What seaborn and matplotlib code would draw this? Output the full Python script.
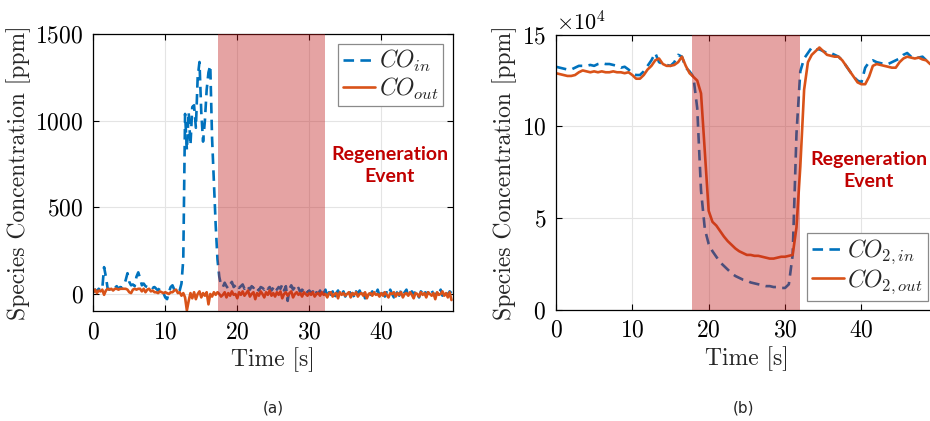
import numpy as np
import matplotlib
matplotlib.use("Agg")
import matplotlib.pyplot as plt
import seaborn as sns

# DATA
# CO concentrations [ppm], sampled every 0.25 s
t_co = np.arange(0, 50, 0.25)
co_in = [10, 25, 15, 30, 20, 30, 155, 100, 30, 25, 40, 30, 35, 45, 30, 40, 35, 50, 80, 120,
         70, 50, 55, 45, 100, 125, 90, 50, 60, 45, 40, 50, 45, 35, 40, 30, 20, 35, 15, 5,
         -20, -30, 10, 40, 50, 25, 15, 10, 20, 60, 200, 1040, 830, 1050, 860, 1080, 1090, 960, 1250, 1340,
         1050, 880, 1000, 1180, 1280, 1320, 900, 650, 400, 200, 100, 50, 40, 65, 45, 30, 55, 70, 40, 50,
         60, 35, 45, 55, 30, 50, 40, 25, 45, 35, 50, 30, 20, 40, 35, 25, 45, 30, 40, 20,
         35, 50, 25, 40, 30, 55, 20, 45, -40, 30, 50, 25, 40, 20, 35, 10, 25, 15, 30, 10,
         20, 5, 15, -10, 10, 0, 20, -15, 5, 25, -20, 10, -5, 15, -25, 5, 20, -10, 0, 15,
         -15, 10, 25, -5, 5, -20, 15, 0, 20, -10, 10, -25, 5, 20, -5, 15, -15, 0, 25, -10,
         5, 20, -15, 10, -5, 25, 0, -20, 15, 5, -10, 20, -5, 10, 25, -15, 0, 15, -10, 20,
         0, -20, 15, 5, 25, -10, 10, -5, 20, 0, -15, 15, 5, 25, -10, 10, 20, -5, 15, 5]
co_out = [10, 25, 5, 20, 15, 25, -5, 20, 30, 25, 30, 20, 30, 30, 25, 30, 30, 30, 30, 25,
          10, 5, 25, 30, 25, 30, 30, 15, 30, 10, 25, 30, 15, 20, 10, 10, 5, 15, 10, 5,
          10, 5, 0, 10, 10, 20, 25, 5, 10, -10, 5, -20, -95, -40, 5, -25, 10, -30, 0, 15,
          -20, 5, -10, 10, -60, 0, -15, 10, -5, 10, 0, -15, -5, 10, -20, 5, -10, 15, -5, 0,
          -25, 10, -5, 15, -10, 5, 20, -15, 0, 10, -30, 5, -10, 15, 0, -20, 10, -5, 20, -10,
          5, -15, 10, -5, 15, -25, 0, 10, -10, 5, 15, -20, 0, 10, -5, 5, -15, 10, 0, -10,
          5, -5, 10, -15, 0, 5, -10, 10, -5, 0, -20, 5, 10, -15, 0, 5, -25, 10, -5, 5,
          -10, 0, 10, -20, 5, -5, 10, -15, 0, 5, -10, 10, -25, 0, 5, -10, 10, -5, 0, -15,
          5, -10, 10, -5, -20, 5, 0, 10, -15, 5, -5, 10, -20, 0, 5, -10, 10, -5, -25, 5,
          0, -15, 10, -5, 5, -20, 10, 0, -10, 5, -30, 10, -5, 0, 15, -10, 5, -20, 10, -35]

# CO2 concentrations [x1e4 ppm], sampled every 0.5 s
t_co2 = np.arange(0, 50, 0.5)
co2_in = [13.25, 13.2, 13.15, 13.1, 13.1, 13.2, 13.3, 13.3, 13.3, 13.35,
          13.3, 13.4, 13.45, 13.4, 13.4, 13.35, 13.3, 13.2, 13.25, 13.1,
          12.9, 12.8, 12.8, 13.0, 13.3, 13.6, 14.0, 13.5, 13.4, 13.35,
          13.3, 13.5, 13.9, 13.8, 13.2, 13.0, 12.7, 11.0, 6.5, 4.4,
          3.6, 3.2, 2.9, 2.6, 2.4, 2.2, 2.0, 1.85, 1.75, 1.65,
          1.6, 1.5, 1.45, 1.4, 1.35, 1.3, 1.3, 1.25, 1.25, 1.2,
          1.2, 1.4, 3.0, 9.6, 13.0, 13.7, 14.0, 14.3, 14.2, 14.2,
          14.1, 14.0, 14.0, 13.9, 13.8, 13.6, 13.3, 13.0, 12.7, 12.5,
          12.4, 13.2, 13.5, 13.6, 13.5, 13.45, 13.4, 13.4, 13.5, 13.6,
          13.7, 13.9, 14.0, 13.8, 13.7, 13.75, 13.8, 13.6, 13.4, 13.3]
co2_out = [12.9, 12.85, 12.8, 12.75, 12.75, 12.8, 12.95, 13.05, 13.0, 12.95,
           13.0, 12.95, 13.0, 12.95, 12.95, 13.0, 12.95, 12.95, 12.9, 12.95,
           12.8, 12.6, 12.6, 12.8, 13.1, 13.3, 13.6, 13.7, 13.4, 13.3,
           13.3, 13.35, 13.5, 13.8, 13.3, 12.9, 12.7, 12.5, 11.8, 8.6,
           5.4, 4.8, 4.6, 4.3, 4.0, 3.75, 3.55, 3.35, 3.2, 3.1,
           3.0, 3.0, 2.95, 2.95, 2.9, 2.85, 2.8, 2.8, 2.85, 2.9,
           2.9, 2.95, 3.0, 4.5, 7.8, 12.0, 13.5, 13.9, 14.1, 14.3,
           14.1, 13.9, 13.85, 13.8, 13.8, 13.6, 13.3, 13.0, 12.7, 12.4,
           12.3, 12.3, 12.7, 13.3, 13.4, 13.35, 13.3, 13.25, 13.2, 13.2,
           13.5, 13.7, 13.8, 13.75, 13.7, 13.75, 13.65, 13.6, 13.4, 13.3]

regen_co = (17.3, 32.2)
regen_co2 = (17.8, 31.9)

# STYLE
sns.set_style("ticks")
plt.rcParams["font.family"] = ["cmr10", "DejaVu Serif"]
plt.rcParams["mathtext.fontset"] = "cm"
plt.rcParams["axes.formatter.use_mathtext"] = True
plt.rcParams["axes.unicode_minus"] = False

blue = "#0072BD"
orange = "#D95319"
shade = (0.75, 0.106, 0.106)

fig = plt.figure(figsize=(9.3, 4.21), dpi=100)
ax1 = fig.add_axes([0.1003, 0.2606, 0.3863, 0.6580])
ax2 = fig.add_axes([0.5978, 0.2637, 0.4097, 0.6540])


def style_axis(ax):
    ax.grid(True, color="#e4e4e4", lw=0.8)
    ax.set_axisbelow(True)
    ax.tick_params(direction="in", length=4, width=0.8, top=True, right=True,
                   labelsize=17, pad=7, colors="black")
    for s in ax.spines.values():
        s.set_color("black")
        s.set_linewidth(0.9)
    ax.set_xlabel("Time [s]", fontsize=17, labelpad=3)
    ax.set_ylabel("Species Concentration [ppm]", fontsize=17, labelpad=3)


def add_legend(ax, loc):
    leg = ax.legend(loc=loc, fontsize=17, frameon=True, fancybox=False,
                    framealpha=1, edgecolor="#8a8a8a", handlelength=1.35,
                    handletextpad=0.15, borderpad=0.2, labelspacing=0.05,
                    borderaxespad=0.4)
    leg.get_frame().set_linewidth(0.9)


# (a) CO
sns.lineplot(x=t_co, y=co_in, ax=ax1, color=blue, lw=1.9, label=r"$CO_{in}$")
ax1.lines[-1].set_dashes([4, 2.4])
sns.lineplot(x=t_co, y=co_out, ax=ax1, color=orange, lw=1.9, label=r"$CO_{out}$")
ax1.axvspan(*regen_co, color=shade, alpha=0.4, lw=0, zorder=5)
ax1.set_xlim(0, 49.9)
ax1.set_ylim(-100, 1500)
ax1.set_xticks([0, 10, 20, 30, 40])
ax1.set_yticks([0, 500, 1000, 1500])
style_axis(ax1)
ax1.text(41.2, 740, "Regeneration\nEvent", ha="center", va="center", fontsize=14,
         fontfamily="Lato", fontweight="bold", color="#c00000", linespacing=1.35)
add_legend(ax1, "upper right")

# (b) CO2
sns.lineplot(x=t_co2, y=np.array(co2_in) * 1e4, ax=ax2, color=blue, lw=1.9,
             label=r"$CO_{2,in}$")
ax2.lines[-1].set_dashes([4, 2.4])
sns.lineplot(x=t_co2, y=np.array(co2_out) * 1e4, ax=ax2, color=orange, lw=1.9,
             label=r"$CO_{2,out}$")
ax2.axvspan(*regen_co2, color=shade, alpha=0.4, lw=0, zorder=5)
ax2.set_xlim(0, 49.9)
ax2.set_ylim(0, 15e4)
ax2.set_xticks([0, 10, 20, 30, 40])
ax2.set_yticks([0, 5e4, 10e4, 15e4])
ax2.ticklabel_format(axis="y", style="sci", scilimits=(4, 4))
ax2.yaxis.get_offset_text().set_fontsize(16)
style_axis(ax2)
ax2.text(41.0, 7.62e4, "Regeneration\nEvent", ha="center", va="center", fontsize=14,
         fontfamily="Lato", fontweight="bold", color="#c00000", linespacing=1.35)
add_legend(ax2, "lower right")

fig.text(0.2935, 0.031, "(a)", ha="center", va="center", fontsize=11,
         fontfamily="DejaVu Sans")
fig.text(0.799, 0.031, "(b)", ha="center", va="center", fontsize=11,
         fontfamily="DejaVu Sans")

plt.savefig("out.png", dpi=100)
